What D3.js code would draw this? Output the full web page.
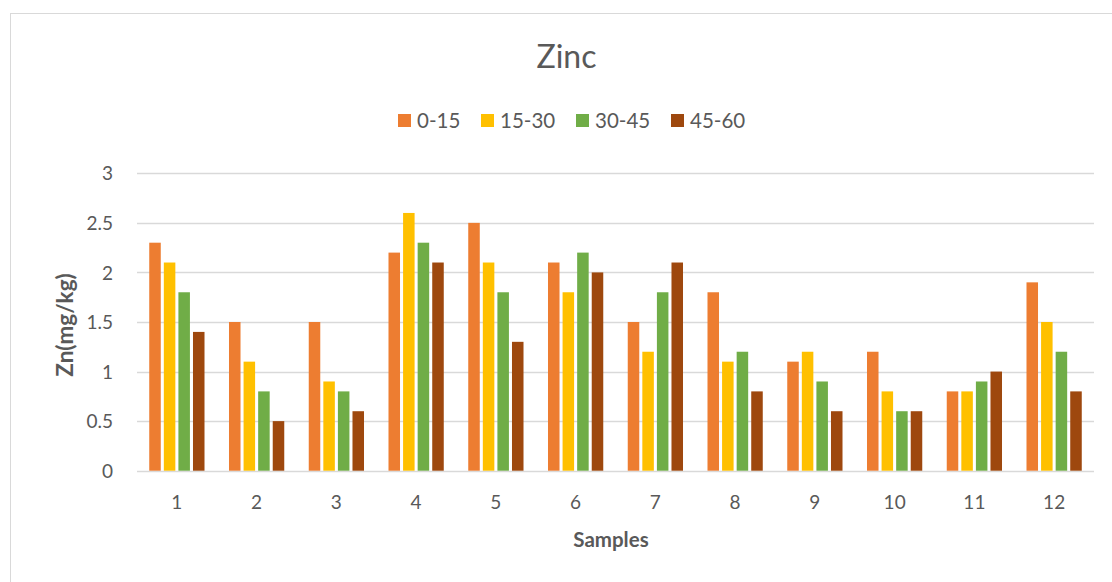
<!DOCTYPE html>
<html>
<head>
<meta charset="utf-8">
<script src="https://cdn.jsdelivr.net/npm/d3@7"></script>
<style>
  html, body { margin: 0; padding: 0; background: #fff; }
  svg { display: block; font-family: Lato, "Open Sans", sans-serif; }
</style>
</head>
<body>
<svg id="chart" width="1112" height="582"></svg>
<script>
// Zinc content by soil depth for each sample
const samples = ["1", "2", "3", "4", "5", "6", "7", "8", "9", "10", "11", "12"];
const depths = ["0-15", "15-30", "30-45", "45-60"];
const depth0_15  = [2.3, 1.5, 1.5, 2.2, 2.5, 2.1, 1.5, 1.8, 1.1, 1.2, 0.8, 1.9];
const depth15_30 = [2.1, 1.1, 0.9, 2.6, 2.1, 1.8, 1.2, 1.1, 1.2, 0.8, 0.8, 1.5];
const depth30_45 = [1.8, 0.8, 0.8, 2.3, 1.8, 2.2, 1.8, 1.2, 0.9, 0.6, 0.9, 1.2];
const depth45_60 = [1.4, 0.5, 0.6, 2.1, 1.3, 2.0, 2.1, 0.8, 0.6, 0.6, 1.0, 0.8];
const yTicks = [0, 0.5, 1, 1.5, 2, 2.5, 3];
const colors = ["#ED7D31", "#FFC000", "#70AD47", "#9E480E"];

const seriesValues = [depth0_15, depth15_30, depth30_45, depth45_60];
const rows = samples.map((s, i) => ({
  sample: s,
  values: depths.map((d, j) => ({ depth: d, value: seriesValues[j][i] }))
}));

const svg = d3.select("#chart");
const textColor = "#595959";
const gridColor = "#D9D9D9";

// chart frame
svg.append("rect")
  .attr("x", 10.5).attr("y", 13.5)
  .attr("width", 1120).attr("height", 600)
  .attr("fill", "#fff").attr("stroke", "#D9D9D9").attr("stroke-width", 1);

const plot = { left: 137, right: 1094, top: 173.3, bottom: 470.7 };

const x0 = d3.scaleBand().domain(samples).range([plot.left, plot.right]).padding(0);
const x1 = d3.scaleBand().domain(depths).range([0, x0.bandwidth()])
  .paddingInner(0.21).paddingOuter(0.84);
const y = d3.scaleLinear().domain([0, 3]).range([plot.bottom, plot.top]);
const color = d3.scaleOrdinal().domain(depths).range(colors);

// gridlines
svg.append("g")
  .selectAll("line")
  .data(yTicks)
  .join("line")
  .attr("x1", plot.left).attr("x2", plot.right)
  .attr("y1", d => Math.round(y(d)) + 0.5).attr("y2", d => Math.round(y(d)) + 0.5)
  .attr("stroke", gridColor).attr("stroke-width", 1.5);

// y axis labels
const yAxis = d3.axisLeft(y).tickValues(yTicks).tickSize(0).tickPadding(0)
  .tickFormat(d3.format("~g"));
const gy = svg.append("g").attr("transform", `translate(${113},0)`).call(yAxis);
gy.select(".domain").remove();
gy.selectAll("text")
  .attr("fill", textColor).attr("font-size", 19)
  .attr("font-family", "Lato, sans-serif").attr("dy", "0.35em");

// bars
const groups = svg.append("g")
  .selectAll("g")
  .data(rows)
  .join("g")
  .attr("transform", d => `translate(${x0(d.sample)},0)`);

groups.selectAll("rect")
  .data(d => d.values)
  .join("rect")
  .attr("x", d => x1(d.depth))
  .attr("width", x1.bandwidth())
  .attr("y", d => y(d.value))
  .attr("height", d => y(0) - y(d.value))
  .attr("fill", d => color(d.depth));

// x axis labels
const xAxis = d3.axisBottom(x0).tickSize(0).tickPadding(0);
const gx = svg.append("g").attr("transform", `translate(0,${509})`).call(xAxis);
gx.select(".domain").remove();
gx.selectAll("text")
  .attr("fill", textColor).attr("font-size", 19)
  .attr("font-family", "Lato, sans-serif").attr("dy", 0);

// title
svg.append("text")
  .attr("x", 566.5).attr("y", 68)
  .attr("text-anchor", "middle")
  .attr("font-size", 32).attr("fill", textColor)
  .text("Zinc");

// legend
const legendX = [398, 481, 576, 671];
const legend = svg.append("g")
  .selectAll("g")
  .data(depths)
  .join("g")
  .attr("transform", (d, i) => `translate(${legendX[i]},0)`);
legend.append("rect")
  .attr("x", 0).attr("y", 114)
  .attr("width", 13).attr("height", 13)
  .attr("fill", d => color(d));
legend.append("text")
  .attr("x", 19).attr("y", 128)
  .attr("font-size", 20.5).attr("fill", textColor)
  .text(d => d);

// axis titles
svg.append("text")
  .attr("transform", "translate(73,325) rotate(-90)")
  .attr("text-anchor", "middle")
  .attr("font-size", 22.5).attr("font-weight", "bold").attr("fill", textColor)
  .text("Zn(mg/kg)");

svg.append("text")
  .attr("x", 611).attr("y", 547)
  .attr("text-anchor", "middle")
  .attr("font-size", 20.5).attr("font-weight", "bold").attr("fill", textColor)
  .text("Samples");
</script>
</body>
</html>
